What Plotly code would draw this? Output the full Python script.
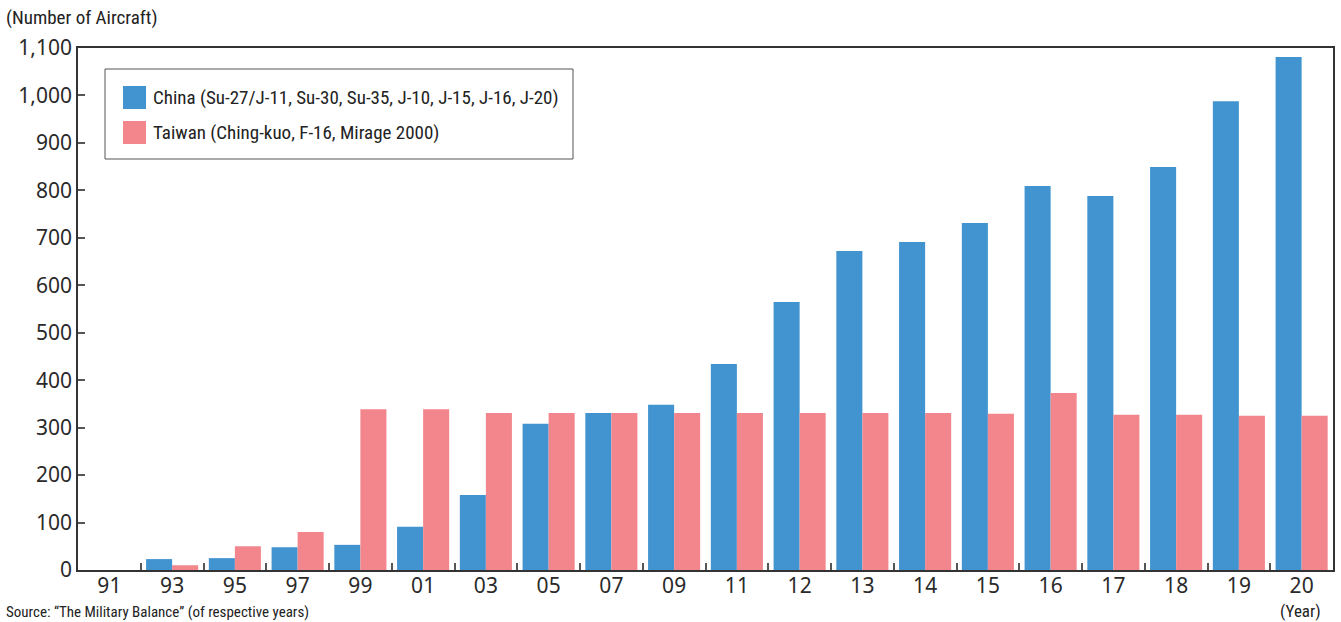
import plotly.graph_objects as go

years = ["91", "93", "95", "97", "99", "01", "03", "05", "07", "09",
         "11", "12", "13", "14", "15", "16", "17", "18", "19", "20"]
china = [0, 23, 25, 48, 53, 91, 158, 308, 331, 348,
         434, 565, 672, 691, 731, 809, 788, 849, 988, 1081]
taiwan = [0, 10, 50, 80, 339, 339, 331, 331, 331, 331,
          331, 331, 331, 331, 329, 373, 327, 327, 325, 325]
y_ticks = [0, 100, 200, 300, 400, 500, 600, 700, 800, 900, 1000, 1100]
y_tick_text = ["0", "100", "200", "300", "400", "500", "600", "700", "800", "900", "1,000", "1,100"]

china_name = "China (Su-27/J-11, Su-30, Su-35, J-10, J-15, J-16, J-20)"
taiwan_name = "Taiwan (Ching-kuo, F-16, Mirage 2000)"
china_color = "#4194D0"
taiwan_color = "#F2868C"

W, H = 1341, 622
L, R, T, B = 78, 8, 48, 52
PW, PH = W - L - R, H - T - B


def px(x):
    return (x - L) / PW


def py(y):
    return (H - B - y) / PH


cond = "Liberation Sans Narrow, Roboto Condensed, Arial Narrow, sans-serif"
tickfont = dict(family="Noto Sans, Lato, sans-serif", size=21, color="#2a2a2a")
txtfont = dict(family=cond, size=19, color="#222222")

fig = go.Figure()
fig.add_trace(go.Bar(x=years, y=china, name=china_name, marker=dict(color=china_color, line=dict(width=0))))
fig.add_trace(go.Bar(x=years, y=taiwan, name=taiwan_name, marker=dict(color=taiwan_color, line=dict(width=0))))

fig.update_layout(
    width=W, height=H,
    margin=dict(l=L, r=R, t=T, b=B),
    paper_bgcolor="white", plot_bgcolor="white",
    barmode="group", bargap=0.17, bargroupgap=0,
    showlegend=False,
    xaxis=dict(type="category", showline=True, linecolor="#333333", linewidth=1.5,
               mirror=True, ticks="inside", tickson="boundaries", ticklen=7,
               tickcolor="#555555", tickwidth=1.5, tickfont=tickfont, showgrid=False,
               automargin=False, ticklabelstandoff=-4),
    yaxis=dict(range=[0, 1100], tickvals=y_ticks, ticktext=y_tick_text,
               showline=True, linecolor="#333333", linewidth=1.5, mirror=True,
               ticks="inside", ticklen=7, tickcolor="#555555", tickwidth=1.5,
               tickfont=tickfont, showgrid=False, zeroline=False, automargin=False),
    font=dict(family=cond, color="#222222"),
)

# legend box (custom, to match the reference's layout)
fig.add_shape(type="rect", xref="paper", yref="paper",
              x0=px(105), x1=px(573), y0=py(159), y1=py(69),
              line=dict(color="#555555", width=1), fillcolor="white", layer="above")
for name, color, ytop in [(china_name, china_color, 86), (taiwan_name, taiwan_color, 121)]:
    fig.add_shape(type="rect", xref="paper", yref="paper",
                  x0=px(123), x1=px(146), y0=py(ytop + 23), y1=py(ytop),
                  line=dict(width=0), fillcolor=color, layer="above")
    fig.add_annotation(text=name, xref="paper", yref="paper",
                       x=px(151), y=py(ytop + 11.5), xanchor="left", yanchor="middle",
                       showarrow=False, font=txtfont)

fig.add_annotation(text="(Number of Aircraft)", xref="paper", yref="paper",
                   x=px(4), y=py(18), xanchor="left", yanchor="middle",
                   showarrow=False, font=txtfont)
fig.add_annotation(text="(Year)", xref="paper", yref="paper",
                   x=px(1323), y=py(611), xanchor="right", yanchor="middle",
                   showarrow=False, font=dict(family=cond, size=17, color="#222222"))
fig.add_annotation(text="Source: “The Military Balance” (of respective years)", xref="paper", yref="paper",
                   x=px(4), y=py(612), xanchor="left", yanchor="middle",
                   showarrow=False, font=dict(family=cond, size=15, color="#222222"))

fig.write_html("out.html", config={"displayModeBar": False},
               post_script="document.body.style.margin='0';document.body.style.overflow='hidden';")
